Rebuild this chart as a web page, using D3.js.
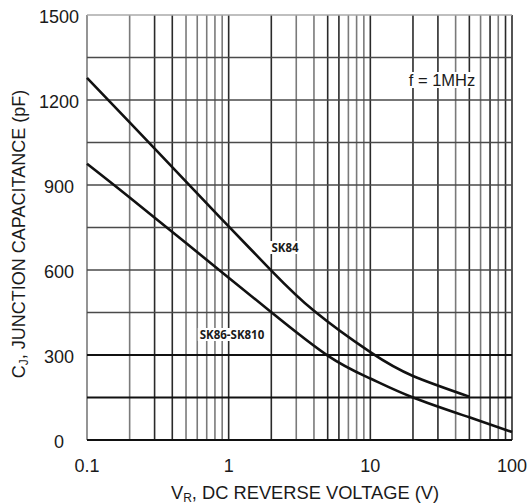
<!DOCTYPE html>
<html>
<head>
<meta charset="utf-8">
<script src="https://cdn.jsdelivr.net/npm/d3@7"></script>
<style>
  body { margin: 0; background: #fff; }
  svg { display: block; }
  text { font-family: "Liberation Sans", Arial, sans-serif; fill: #1a1a1a; }
</style>
</head>
<body>
<svg width="528" height="504"></svg>
<script>
// Curve data
const sk84Volts = [0.1, 0.2, 0.5, 1, 2, 4, 10, 20, 50];
const sk84Cap = [1278, 1121, 912, 754, 598, 456, 310, 226, 153];
const sk86Volts = [0.1, 0.2, 0.5, 1, 2, 5, 10, 20, 50, 100];
const sk86Cap = [975, 856, 695, 573, 451, 298, 217, 150, 80, 28];
const xTickLabels = [0.1, 1, 10, 100];
const yTickLabels = [0, 300, 600, 900, 1200, 1500];

// Plot box
const plotLeft = 87, plotRight = 512, plotTop = 15, plotBottom = 440;

const svg = d3.select("svg");

const x = d3.scaleLog().domain([0.1, 100]).range([plotLeft, plotRight]);
const y = d3.scaleLinear().domain([0, 1500]).range([plotBottom, plotTop]);

// Grid lines (some darker, like the scanned original)
const darkV = [0.3, 0.4, 1, 2, 5, 6, 10, 20, 30, 50, 70, 90, 100];
const darkH = [0, 150, 300];
const grid = svg.append("g");

grid.selectAll(".vgrid")
  .data(x.ticks())
  .enter()
  .append("line")
  .attr("x1", (d) => x(d))
  .attr("x2", (d) => x(d))
  .attr("y1", plotTop)
  .attr("y2", plotBottom)
  .attr("stroke", (d) => (darkV.some((v) => Math.abs(v - d) < 1e-9) ? "#2a2a2a" : "#7a7a7a"))
  .attr("stroke-width", 1.6);

grid.selectAll(".hgrid")
  .data(d3.range(0, 1501, 150))
  .enter()
  .append("line")
  .attr("x1", plotLeft)
  .attr("x2", plotRight)
  .attr("y1", (d) => y(d))
  .attr("y2", (d) => y(d))
  .attr("stroke", (d) => (darkH.includes(d) ? "#111" : d === 1500 ? "#aaa" : "#4a4a4a"))
  .attr("stroke-width", (d) => (darkH.includes(d) ? 2 : 1.6));

// Curves
const line = d3
  .line()
  .x((d) => x(d[0]))
  .y((d) => y(d[1]))
  .curve(d3.curveNatural);

[[sk84Volts, sk84Cap], [sk86Volts, sk86Cap]].forEach(([vs, cs]) => {
  svg
    .append("path")
    .datum(vs.map((v, i) => [v, cs[i]]))
    .attr("fill", "none")
    .attr("stroke", "#111")
    .attr("stroke-width", 2.6)
    .attr("d", line);
});

// Labels with white boxes over the grid
function boxedLabel(tx, ty, str, size, weight, family) {
  const g = svg.append("g");
  const t = g
    .append("text")
    .attr("x", tx)
    .attr("y", ty)
    .attr("text-anchor", "middle")
    .style("font-size", size + "px")
    .style("font-weight", weight)
    .style("font-family", family)
    .text(str);
  const b = t.node().getBBox();
  g.insert("rect", "text")
    .attr("x", b.x - 2)
    .attr("y", b.y + 1)
    .attr("width", b.width + 4)
    .attr("height", b.height - 2)
    .attr("fill", "#fff");
}

boxedLabel(285, 252, "SK84", 11.5, "bold", "'Open Sans', sans-serif");
boxedLabel(232, 339, "SK86-SK810", 11.5, "bold", "'Open Sans', sans-serif");
boxedLabel(442, 86, "f = 1MHz", 16.5, "normal", "'Liberation Sans', Arial, sans-serif");

// Tick labels
svg.selectAll(".ytick")
  .data(yTickLabels)
  .enter()
  .append("text")
  .attr("x", 59)
  .attr("y", (d) => y(d) + 8)
  .attr("text-anchor", "middle")
  .style("font-size", "18px")
  .text((d) => d);

svg.selectAll(".xtick")
  .data(xTickLabels)
  .enter()
  .append("text")
  .attr("x", (d) => x(d))
  .attr("y", 472)
  .attr("text-anchor", "middle")
  .style("font-size", "18px")
  .text((d) => d);

// Axis titles
const xt = svg
  .append("text")
  .attr("x", 305)
  .attr("y", 499)
  .attr("text-anchor", "middle")
  .style("font-size", "18.3px");
xt.append("tspan").text("V");
xt.append("tspan").attr("dy", 3).style("font-size", "12px").text("R");
xt.append("tspan").attr("dy", -3).text(", DC REVERSE VOLTAGE (V)");

const yt = svg
  .append("text")
  .attr("transform", "translate(25,234) rotate(-90)")
  .attr("text-anchor", "middle")
  .style("font-size", "18px");
yt.append("tspan").text("C");
yt.append("tspan").attr("dy", 3).style("font-size", "12px").text("J");
yt.append("tspan").attr("dy", -3).text(", JUNCTION CAPACITANCE (pF)");
</script>
</body>
</html>
